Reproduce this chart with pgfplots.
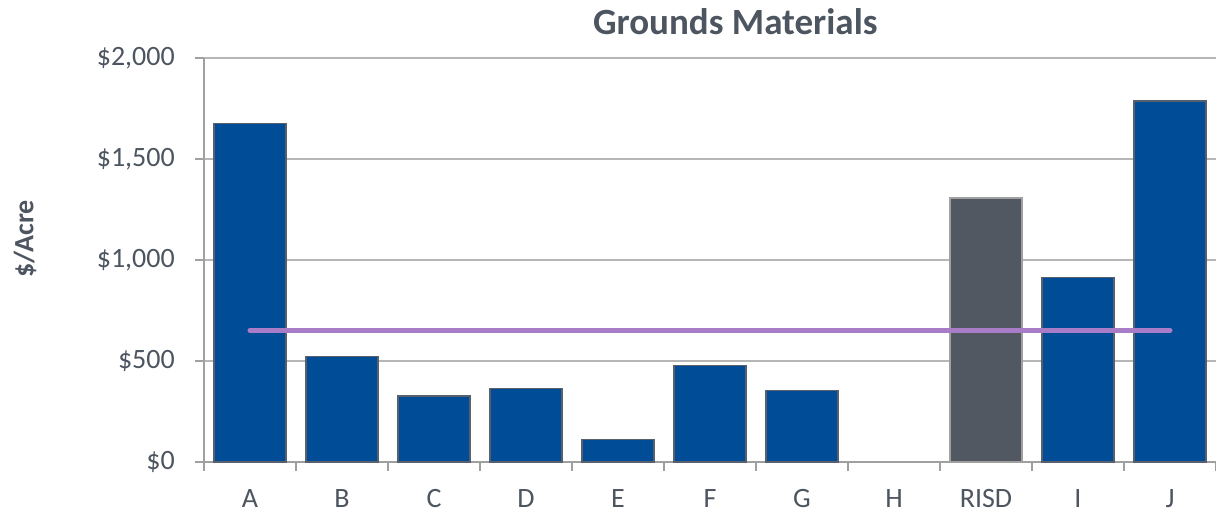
\documentclass[border=0pt]{standalone}
\usepackage{pgfplots}
\pgfplotsset{compat=1.18}
\usepackage{fontspec}
\setmainfont{Carlito}

\definecolor{barblue}{RGB}{0,76,151}
\definecolor{barrim}{RGB}{88,96,108}
\definecolor{risdgray}{RGB}{81,88,98}
\definecolor{avgpurple}{RGB}{169,124,200}
\definecolor{gridgray}{RGB}{182,182,182}
\definecolor{axisgray}{RGB}{160,160,160}
\definecolor{textgray}{RGB}{77,85,96}

\begin{document}
\begin{tikzpicture}
\useasboundingbox (-204pt,-57pt) rectangle (1012pt,462pt);
\begin{axis}[
  at={(0pt,0pt)}, anchor=south west,
  scale only axis, width=1012pt, height=404pt,
  xmin=-0.5, xmax=10.5, ymin=0, ymax=2000,
  axis x line*=bottom, axis y line*=left,
  axis line style={draw=axisgray, line width=1.6pt},
  xtick={0,...,10},
  xticklabels={A,B,C,D,E,F,G,H,RISD,I,J},
  minor xtick={-0.5,0.5,...,10.5},
  ytick={0,500,1000,1500,2000},
  yticklabels={{\$0},{\$500},{\$1,000},{\$1,500},{\$2,000}},
  ymajorgrids,
  grid style={draw=gridgray, line width=1.6pt},
  tick align=outside, major tick length=9pt, minor tick length=9pt,
  tick style={draw=axisgray, line width=1.6pt},
  major x tick style={draw=none},
  xticklabel style={font=\fontsize{28}{30}\selectfont, text=textgray,
    anchor=base, inner sep=0pt, yshift=-36.7pt},
  yticklabel style={font=\fontsize{28}{30}\selectfont, text=textgray,
    anchor=east, inner sep=0pt, xshift=-20pt},
  clip=false,
]
% member bars (no value for H)
\addplot[ybar, bar width=71.7pt, bar shift=0pt, fill=barblue, draw=barrim, line width=1.4pt]
  coordinates {(0,1675) (1,521) (2,327) (3,363) (4,110) (5,479) (6,355) (9,912) (10,1787)};
% RISD bar
\addplot[ybar, bar width=71.7pt, bar shift=0pt, fill=risdgray, draw=axisgray, line width=1.4pt]
  coordinates {(8,1307)};
% average line
\addplot[avgpurple, line width=5pt, line cap=round]
  coordinates {(0,652) (10,652)};

\node[font=\bfseries\fontsize{37}{40}\selectfont, text=textgray, anchor=base, yshift=23pt]
  at (rel axis cs:0.525,1) {Grounds Materials};
\node[font=\bfseries\fontsize{28}{30}\selectfont, text=textgray, rotate=90]
  at ([xshift=-179pt]rel axis cs:0,0.552) {\$/Acre};
\end{axis}
\end{tikzpicture}
\end{document}
